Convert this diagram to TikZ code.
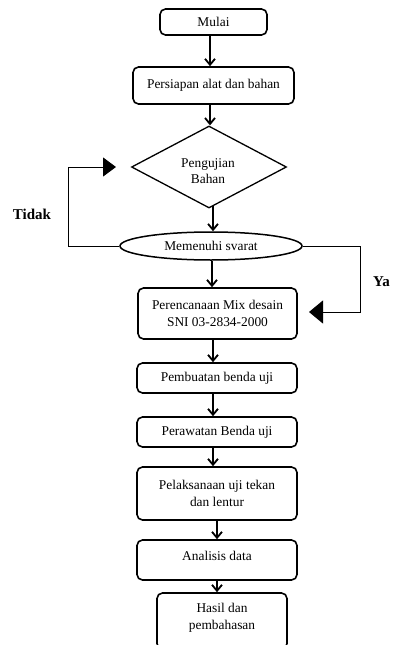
\documentclass[tikz,border=0pt]{standalone}
\usepackage{fontspec}
\setmainfont{Liberation Serif}
\usetikzlibrary{shapes.geometric,arrows.meta}
\tikzset{
  box/.style={draw, line width=1.6pt, rounded corners=5.5pt, align=center, inner sep=0pt,
    font=\fontsize{13.4}{17}\selectfont},
  arr/.style={line width=1.8pt, -{Straight Barb[length=6pt,width=10pt,line width=1.8pt]}},
  fb/.style={line width=1pt},
  lbl/.style={font=\fontsize{15}{18}\selectfont\bfseries, inner sep=0pt}
}
\begin{document}
\begin{tikzpicture}[x=1pt,y=1pt]
\useasboundingbox (0,0) rectangle (392,-645);
\begin{scope}
\clip (0,0) rectangle (392,-645);
\node[box, minimum width=107pt, minimum height=26pt] (mulai) at (213.5,-22) {Mulai};
\node[box, minimum width=161pt, minimum height=37pt] (persiapan) at (213.5,-85.5) {Persiapan alat dan bahan};
\node[draw, diamond, line width=1.3pt, minimum width=155pt, minimum height=82pt, inner sep=0pt,
  align=center, font=\fontsize{13.4}{16.5}\selectfont] (uji) at (209,-167) {};
\node[align=center, font=\fontsize{13.4}{16.5}\selectfont, inner sep=0pt] (ujitext) at (208,-171) {Pengujian\\Bahan};
\node[draw, ellipse, line width=1.5pt, minimum width=182pt, minimum height=28pt, inner sep=0pt,
  font=\fontsize{13.4}{16.5}\selectfont] (syarat) at (211,-246) {Memenuhi svarat};
\node[box, minimum width=159pt, minimum height=51pt] (rencana) at (217.5,-313.5) {Perencanaan Mix desain\\SNI 03-2834-2000};
\node[box, minimum width=160pt, minimum height=30pt] (buat) at (217,-378) {Pembuatan benda uji};
\node[box, minimum width=160pt, minimum height=30pt] (rawat) at (217,-432) {Perawatan Benda uji};
\node[box, minimum width=160pt, minimum height=53pt] (laksana) at (217,-493.5) {Pelaksanaan uji tekan\\dan lentur};
\node[box, minimum width=160pt, minimum height=40pt] (analisis) at (217,-560) {};
\node[font=\fontsize{13.4}{17}\selectfont, inner sep=0pt] (analisistext) at (217,-556) {Analisis data};
\node[box, minimum width=130pt, minimum height=56pt] (hasil) at (222,-621) {};
\node[align=center, font=\fontsize{13.4}{17}\selectfont, inner sep=0pt] (hasiltext) at (222,-618) {Hasil dan\\pembahasan};

\draw[arr] (mulai.south -| 210,0) -- (persiapan.north -| 210,0);
\draw[arr] (persiapan.south -| 210,0) -- (uji.north -| 210,0);
\draw[arr] (213,-206) -- (syarat.north -| 213,0);
\draw[arr] (syarat.south -| 212,0) -- (rencana.north -| 212,0);
\draw[arr] (rencana.south -| 213,0) -- (buat.north -| 213,0);
\draw[arr] (buat.south -| 213,0) -- (rawat.north -| 213,0);
\draw[arr] (rawat.south -| 213,0) -- (laksana.north -| 213,0);
\draw[arr] (laksana.south -| 217,0) -- (analisis.north -| 217,0);
\draw[arr] (analisis.south -| 217,0) -- (hasil.north -| 217,0);

\coordinate (tidaktip) at (116,-167);
\coordinate (yatip) at (309,-312);
\draw[fb, -{Triangle[length=13pt,width=19pt]}] (syarat.west) -- (syarat.west -| 68,0) |- (tidaktip);
\draw[fb, -{Triangle[length=14pt,width=23pt]}] (syarat.east) -- (syarat.east -| 360,0) |- (yatip);

\node[lbl] (tidak) at (32,-214) {Tidak};
\node[lbl, anchor=west] (ya) at (373,-282) {Ya};
\end{scope}
\end{tikzpicture}
\end{document}
